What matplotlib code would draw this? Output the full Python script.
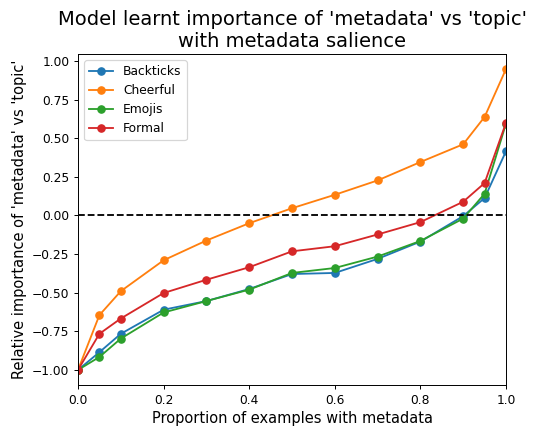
import matplotlib
matplotlib.use("Agg")
import matplotlib.pyplot as plt

# proportion of examples with metadata
proportions = [0.0, 0.05, 0.1, 0.2, 0.3, 0.4, 0.5, 0.6, 0.7, 0.8, 0.9, 0.95, 1.0]

# relative importance of 'metadata' vs 'topic' per metadata type
backticks = [-1.0, -0.885, -0.766, -0.61, -0.554, -0.476, -0.379, -0.372, -0.281, -0.169, -0.004, 0.113, 0.416]
cheerful = [-1.0, -0.645, -0.49, -0.29, -0.162, -0.05, 0.047, 0.134, 0.227, 0.346, 0.461, 0.638, 0.948]
emojis = [-1.0, -0.916, -0.797, -0.628, -0.554, -0.48, -0.372, -0.34, -0.266, -0.165, -0.02, 0.141, 0.595]
formal = [-1.0, -0.766, -0.667, -0.502, -0.416, -0.335, -0.232, -0.199, -0.123, -0.043, 0.089, 0.21, 0.60]

series = {
    "Backticks": backticks,
    "Cheerful": cheerful,
    "Emojis": emojis,
    "Formal": formal,
}

DPI = 88
fig, ax = plt.subplots(figsize=(541 / DPI, 434 / DPI), dpi=DPI)

for name, values in series.items():
    ax.plot(proportions, values, marker="o", label=name)

ax.axhline(0, color="black", linestyle="--")
ax.set_xlim(0, 1)

ax.set_title("Model learnt importance of 'metadata' vs 'topic'\nwith metadata salience", fontsize=16)
ax.set_xlabel("Proportion of examples with metadata", fontsize=12)
ax.set_ylabel("Relative importance of 'metadata' vs 'topic'", fontsize=12)
ax.legend(loc="upper left")

fig.subplots_adjust(left=78 / 541, right=506 / 541, top=1 - 54 / 434, bottom=1 - 385 / 434)
plt.savefig("out.png", dpi=DPI)
